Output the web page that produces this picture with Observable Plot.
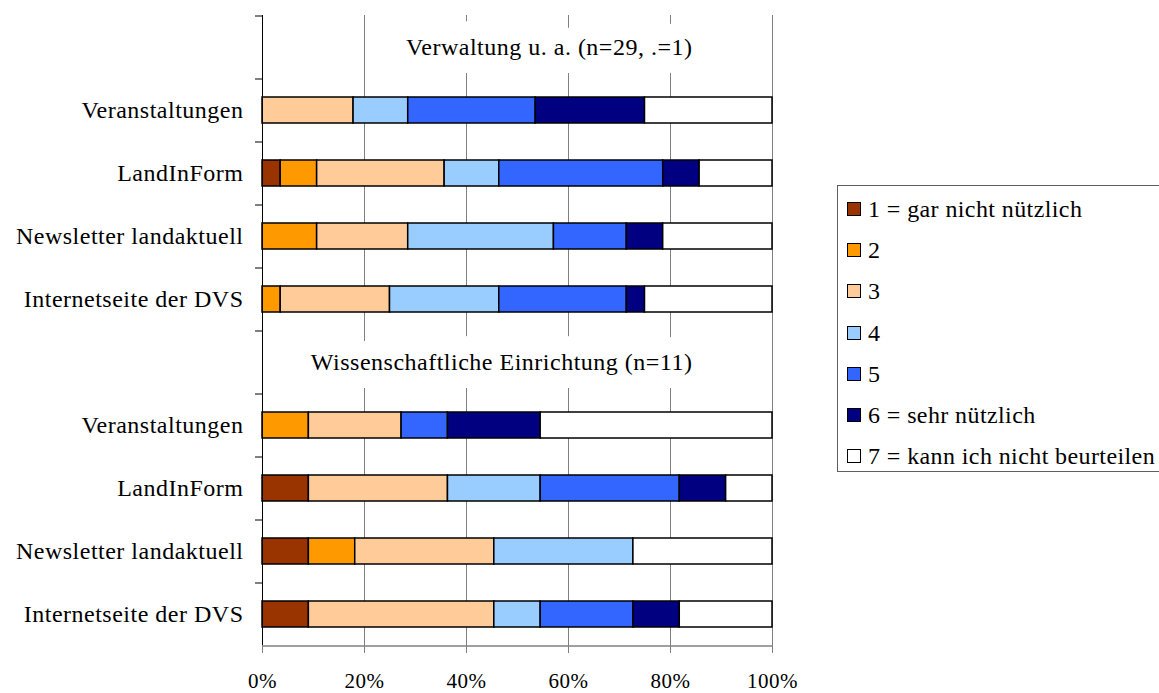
<!DOCTYPE html>
<html>
<head>
<meta charset="utf-8">
<script src="https://cdn.jsdelivr.net/npm/d3@7"></script>
<script src="https://cdn.jsdelivr.net/npm/@observablehq/plot@0.6"></script>
<style>
  html, body { margin: 0; padding: 0; background: #fff; overflow: hidden; }
  #wrap { position: relative; width: 1159px; height: 693px; overflow: hidden; }
  #chart svg text { letter-spacing: 0.5px; }
  #legend { position: absolute; left: 837px; top: 185px; width: 360px; height: 287px;
            box-sizing: border-box; border: 1px solid #606060; padding-top: 2px; padding-left: 9px; }
  #legend .item { height: 41.3px; display: flex; align-items: center; white-space: nowrap;
                  font-size: 24px; line-height: 24px; letter-spacing: 0.4px; color: #000; }
  #legend .sw { width: 14px; height: 14px; box-sizing: border-box; border: 1px solid #000;
                margin-right: 7px; flex: none; }
</style>
</head>
<body>
<div id="wrap">
  <div id="chart"></div>
  <div id="legend"></div>
</div>
<script>
// ---- data ----
const groups = ["Verwaltung u. a. (n=29, .=1)", "Wissenschaftliche Einrichtung (n=11)"];
const items = ["Veranstaltungen", "LandInForm", "Newsletter landaktuell", "Internetseite der DVS"];
const levels = ["1 = gar nicht nützlich", "2", "3", "4", "5", "6 = sehr nützlich", "7 = kann ich nicht beurteilen"];
const colors = ["#993300", "#FF9900", "#FFCC99", "#99CCFF", "#3366FF", "#000080", "#FFFFFF"];
// counts per item (rows) for answer levels 1..7 (columns)
const countsVerwaltung = [
  [0, 0, 5, 3, 7, 6, 7],
  [1, 2, 7, 3, 9, 2, 4],
  [0, 3, 5, 8, 4, 2, 6],
  [0, 1, 6, 6, 7, 1, 7]
];
const countsWissenschaft = [
  [0, 1, 2, 0, 1, 2, 5],
  [1, 0, 3, 2, 3, 1, 1],
  [1, 1, 3, 3, 0, 0, 3],
  [1, 0, 4, 1, 2, 1, 2]
];
const xTicks = [0, 0.2, 0.4, 0.6, 0.8, 1];

// ---- pick an installed Times-like serif font ----
function hasFont(name) {
  const ctx = document.createElement("canvas").getContext("2d");
  const s = "Veranstaltungen LandInForm 0123456789%";
  return ["monospace", "sans-serif"].some(fb => {
    ctx.font = `24px ${fb}`;
    const w0 = ctx.measureText(s).width;
    ctx.font = `24px "${name}", ${fb}`;
    return ctx.measureText(s).width !== w0;
  });
}
const candidates = ["Liberation Serif", "Times New Roman", "Tinos", "Nimbus Roman", "DejaVu Serif", "Noto Serif"];
const picked = candidates.find(hasFont);
const serif = (picked ? `"${picked}", ` : "") + "serif";
document.getElementById("wrap").style.fontFamily = serif;

// ---- build tables ----
const countsByGroup = [countsVerwaltung, countsWissenschaft];
const yDomain = [];
const titleRows = [];
const rows = [];
groups.forEach((g, gi) => {
  yDomain.push(g + "|");
  titleRows.push({key: g + "|", title: g});
  items.forEach((it, ii) => {
    const key = g + "|" + it;
    yDomain.push(key);
    countsByGroup[gi][ii].forEach((c, li) => {
      if (c > 0) rows.push({key, level: levels[li], count: c});
    });
  });
});

const height = 693, marginTop = 15, marginBottom = 48;
const step = (height - marginTop - marginBottom) / yDomain.length;

const chart = Plot.plot({
  width: 1159,
  height,
  marginLeft: 262,
  marginRight: 387,
  marginTop,
  marginBottom,
  style: {fontFamily: serif, background: "white", color: "black", overflow: "visible"},
  x: {domain: [0, 1], label: null},
  y: {domain: yDomain, paddingInner: 0.59, paddingOuter: 0.295, label: null},
  color: {domain: levels, range: colors},
  marks: [
    Plot.ruleX(xTicks.slice(1), {stroke: "#808080", strokeWidth: 1}),
    Plot.text(titleRows, {
      x: () => 0.843, y: "key", text: "title", textAnchor: "end",
      fontSize: 24, fill: "black", stroke: "white", strokeWidth: 36, strokeLinejoin: "round"
    }),
    Plot.barX(rows, Plot.stackX({
      x: "count", y: "key", fill: "level", offset: "normalize",
      stroke: "black", strokeWidth: 1.5
    })),
    Plot.ruleX([0], {stroke: "black", strokeWidth: 1}),
    Plot.ruleY([yDomain[yDomain.length - 1]], {dy: step / 2, stroke: "#808080", strokeWidth: 1.5}),
    Plot.axisY({tickSize: 0, tickPadding: 19, fontSize: 24, label: null,
                tickFormat: k => k.split("|")[1]}),
    Plot.axisY({tickSize: 7, tickFormat: () => "", dy: -step / 2, label: null, stroke: "black"}),
    Plot.axisX({ticks: xTicks, tickFormat: d3.format(".0%"), tickSize: 8, tickPadding: 20,
                fontSize: 21, stroke: "#808080", label: null})
  ]
});
document.getElementById("chart").appendChild(chart);

// ---- legend ----
const legend = d3.select("#legend");
levels.forEach((l, i) => {
  const item = legend.append("div").attr("class", "item");
  item.append("div").attr("class", "sw").style("background", colors[i]);
  item.append("span").text(l);
});
</script>
</body>
</html>
